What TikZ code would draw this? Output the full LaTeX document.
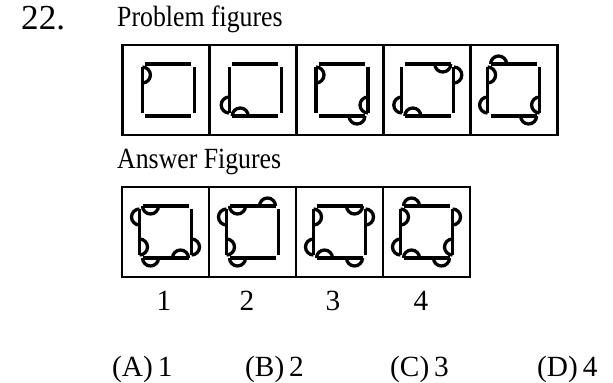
\documentclass[tikz,border=0pt]{standalone}
\usepackage{fontspec}
\usepackage{graphicx}
\setmainfont{Liberation Serif}
\usetikzlibrary{positioning}
\tikzset{
  fig line/.style={line width=2.8pt},
  cell/.style={draw,line width=2.4pt,minimum width=2.61cm,minimum height=2.7cm,inner sep=0pt},
  qtext/.style={font=\fontsize{25}{29}\selectfont,inner sep=0pt,anchor=base west},
}
% square of four loose sides
\newcommand{\sqr}{%
  \draw[fig line] (-26,-23) -- (-26,23);
  \draw[fig line] (26,-23) -- (26,23);
  \draw[fig line] (-23,26) -- (23,26);
  \draw[fig line] (-23,-26) -- (23,-26);}
% half loop at (#1,#2), bulging towards angle #3
\newcommand{\lp}[3]{\draw[fig line] (#1,#2) ++({#3-90}:8) arc[start angle={#3-90},delta angle=180,radius=8];}
\newcommand{\sq}[1]{\scalebox{0.88}[1]{#1}}

\begin{document}
\begin{tikzpicture}[x=0.03cm,y=0.03cm]
  \useasboundingbox (0,0) rectangle (613,382);
  \node[qtext,font=\fontsize{30}{34}\selectfont] (qnum) at (21,352) {22.};
  \node[qtext] (ptitle) at (117,355) {\sq{Problem figures}};
  \node[qtext] (atitle) at (117,214) {\sq{Answer Figures}};

  % problem figures
  \foreach \i in {1,...,5}
    \node[cell] (p\i) at ({123+86.8*(\i-0.5)},292) {};
  \begin{scope}[shift={(p1.center)},shift={(2,0)}]
    \sqr
    \lp{-26}{15}{0}
  \end{scope}
  \begin{scope}[shift={(p2.center)},shift={(2,0)}]
    \sqr
    \foreach \x/\y/\a in {-26/-15/180,-15/-26/90} \lp{\x}{\y}{\a};
  \end{scope}
  \begin{scope}[shift={(p3.center)},shift={(2,0)}]
    \sqr
    \foreach \x/\y/\a in {-26/15/0,26/-15/180,15/-26/270} \lp{\x}{\y}{\a};
  \end{scope}
  \begin{scope}[shift={(p4.center)},shift={(1,0)}]
    \sqr
    \foreach \x/\y/\a in {-26/-15/180,-15/-26/90,15/26/270,26/15/0} \lp{\x}{\y}{\a};
  \end{scope}
  \begin{scope}[shift={(p5.center)}]
    \sqr
    \foreach \x/\y/\a in {-26/15/0,26/-15/180,15/-26/270,-15/26/90,-26/-15/180} \lp{\x}{\y}{\a};
  \end{scope}

  % answer figures
  \foreach \i in {1,...,4}
    \node[cell] (a\i) at ({122+87*(\i-0.5)},150) {};
  \begin{scope}[shift={(a1.center)}]
    \sqr
    \foreach \x/\y/\a in {-15/26/270,-26/15/180,-26/-15/0,26/-15/0,-15/-26/270,15/-26/90} \lp{\x}{\y}{\a};
  \end{scope}
  \begin{scope}[shift={(a2.center)}]
    \sqr
    \foreach \x/\y/\a in {-15/26/270,15/26/90,-26/15/180,-26/-15/0,-15/-26/270} \lp{\x}{\y}{\a};
  \end{scope}
  \begin{scope}[shift={(a3.center)}]
    \sqr
    \foreach \x/\y/\a in {15/26/270,26/15/0,-26/15/0,-26/-15/180,-15/-26/90,15/-26/270} \lp{\x}{\y}{\a};
  \end{scope}
  \begin{scope}[shift={(a4.center)}]
    \sqr
    \foreach \x/\y/\a in {-15/26/90,-26/15/0,-26/-15/180,26/15/0,26/-15/180,-15/-26/90,15/-26/270} \lp{\x}{\y}{\a};
  \end{scope}

  % labels under the answers
  \foreach \n/\x in {1/164,2/247,3/333,4/421}
    \node[qtext,anchor=base] (n\n) at (\x,72) {\n};
  \node[qtext] (optA) at (112,6) {(A)\,1};
  \node[qtext] (optB) at (245,6) {(B)\,2};
  \node[qtext] (optC) at (390,6) {(C)\,3};
  \node[qtext] (optD) at (537,6) {(D)\,4};
\end{tikzpicture}
\end{document}
